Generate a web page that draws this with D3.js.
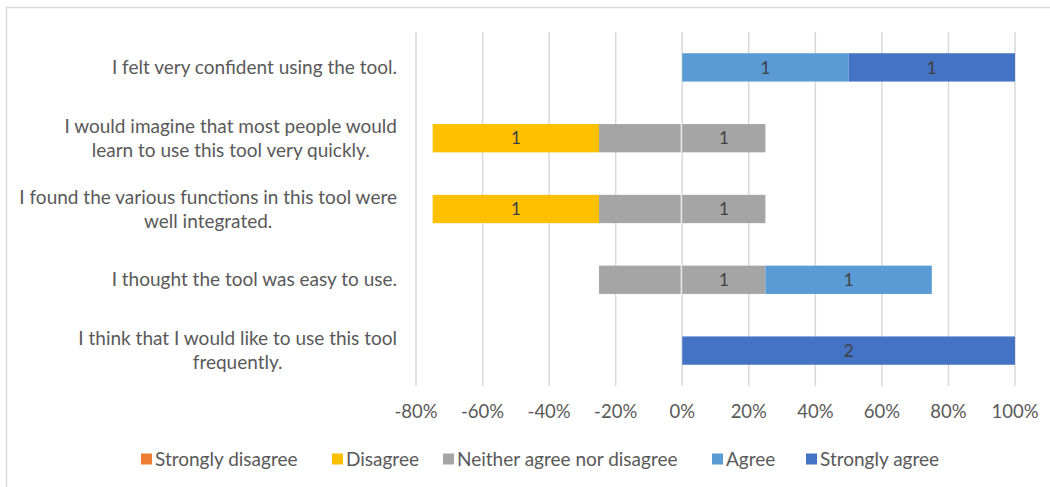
<!DOCTYPE html>
<html><head><meta charset="utf-8">
<script src="https://cdn.jsdelivr.net/npm/d3@7"></script>
<style>
body{margin:0;background:#fff;}
text{font-family:Lato, "Liberation Sans", sans-serif;fill:#595959;}
</style></head>
<body><svg id="c" width="1050" height="487"></svg>
<script>
const categories = [
  ["I felt very confident using the tool."],
  ["I would imagine that most people would", "learn to use this tool very quickly."],
  ["I found the various functions in this tool were", "well integrated."],
  ["I thought the tool was easy to use."],
  ["I think that I would like to use this tool", "frequently."]
];
const respondents = 2;
const stronglyDisagree = [0, 0, 0, 0, 0];
const disagree         = [0, 1, 1, 0, 0];
const neutral          = [0, 1, 1, 1, 0];
const agree            = [1, 0, 0, 1, 0];
const stronglyAgree    = [1, 0, 0, 0, 2];
const seriesNames = ["Strongly disagree", "Disagree", "Neither agree nor disagree", "Agree", "Strongly agree"];
const seriesColors = ["#ED7D31", "#FFC000", "#A5A5A5", "#5B9BD5", "#4472C4"];
const xTicks = [-0.8, -0.6, -0.4, -0.2, 0, 0.2, 0.4, 0.6, 0.8, 1.0];

const FS = 19;
const svg = d3.select("#c");
svg.append("rect").attr("x", 6.5).attr("y", 7.5).attr("width", 1100).attr("height", 600)
  .attr("fill", "#fff").attr("stroke", "#d9d9d9").attr("stroke-width", 1.5);

const x = d3.scaleLinear().domain([-0.8, 1.0]).range([416, 1015]);
const y = d3.scaleBand().domain(d3.range(categories.length)).range([32, 386]).paddingInner(0.6).paddingOuter(0.3);

// gridlines
svg.append("g").selectAll("line").data(xTicks).join("line")
  .attr("x1", d => x(d)).attr("x2", d => x(d)).attr("y1", 32).attr("y2", 386)
  .attr("stroke", "#d9d9d9").attr("stroke-width", 1.5);

// build segments
const segs = [];
categories.forEach((c, i) => {
  const p = v => v / respondents;
  let left = -(p(stronglyDisagree[i]) + p(disagree[i]) + p(neutral[i]) / 2);
  const parts = [
    {s: 0, v: p(stronglyDisagree[i]), n: stronglyDisagree[i], label: true},
    {s: 1, v: p(disagree[i]), n: disagree[i], label: true},
    {s: 2, v: p(neutral[i]) / 2, n: neutral[i], label: false, gapEnd: true},
    {s: 2, v: p(neutral[i]) / 2, n: neutral[i], label: true},
    {s: 3, v: p(agree[i]), n: agree[i], label: true},
    {s: 4, v: p(stronglyAgree[i]), n: stronglyAgree[i], label: true}
  ];
  parts.forEach(pt => {
    if (pt.v > 0) segs.push({i, s: pt.s, x0: left, x1: left + pt.v, n: pt.n, label: pt.label, gapEnd: pt.gapEnd});
    left += pt.v;
  });
});

svg.append("g").selectAll("rect").data(segs).join("rect")
  .attr("x", d => x(d.x0)).attr("width", d => x(d.x1) - x(d.x0) - (d.gapEnd ? 1.5 : 0))
  .attr("y", d => y(d.i)).attr("height", y.bandwidth())
  .attr("fill", d => seriesColors[d.s]);

svg.append("g").selectAll("text").data(segs.filter(d => d.label)).join("text")
  .attr("x", d => (x(d.x0) + x(d.x1)) / 2)
  .attr("y", d => y(d.i) + y.bandwidth() / 2).attr("dy", "0.36em")
  .attr("text-anchor", "middle").style("font-size", "17px").style("fill", "#404040")
  .text(d => d.n);

// category labels
const cg = svg.append("g");
categories.forEach((lines, i) => {
  const cy = y(i) + y.bandwidth() / 2;
  const lh = 24;
  const t = cg.append("text").style("font-size", FS + "px").attr("text-anchor", "middle");
  const tsp = lines.map((l, k) => t.append("tspan").attr("y", cy + (k - (lines.length - 1) / 2) * lh).attr("dy", "0.35em").text(l));
  const maxW = d3.max(tsp, s => s.node().getComputedTextLength());
  tsp.forEach(s => s.attr("x", 397 - maxW / 2));
});

// x axis labels
const pct = d => Math.round(d * 100) + "%";
svg.append("g").selectAll("text").data(xTicks).join("text")
  .attr("x", d => x(d)).attr("y", 412).attr("dy", "0.35em").attr("text-anchor", "middle")
  .style("font-size", "18.5px").text(pct);

// legend
const legX = [141, 332, 443, 712, 806];
const lg = svg.append("g").selectAll("g").data(seriesNames).join("g")
  .attr("transform", (d, i) => `translate(${legX[i]},459)`);
lg.append("rect").attr("x", 0).attr("y", -5.5).attr("width", 11).attr("height", 11).attr("fill", (d, i) => seriesColors[i]);
lg.append("text").attr("x", 14).attr("dy", "0.35em").style("font-size", FS + "px").text(d => d);
</script></body></html>
